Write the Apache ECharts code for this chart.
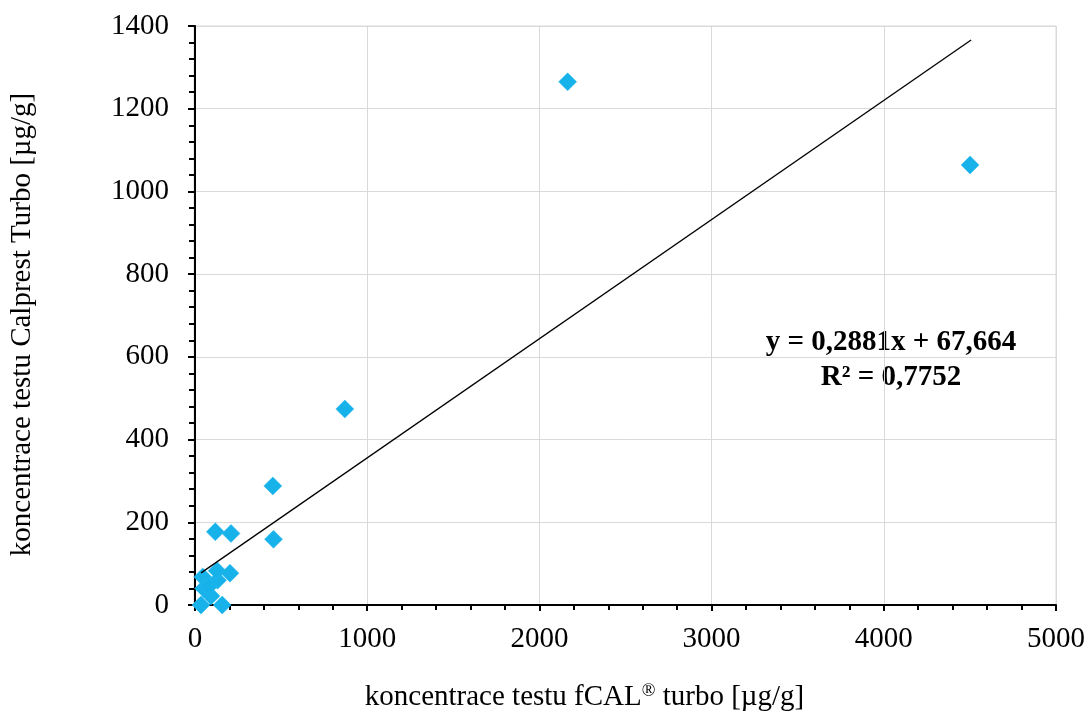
<!DOCTYPE html>
<html>
<head>
<meta charset="utf-8">
<script src="https://cdn.jsdelivr.net/npm/echarts@6/dist/echarts.min.js"></script>
<style>
  html, body { margin: 0; padding: 0; background: #fff; }
  #chart { width: 1090px; height: 717px; }
</style>
</head>
<body>
<div id="chart"></div>
<script>
// fCAL turbo vs Calprest Turbo (µg/g)
var fcalValues = [35, 158, 45, 50, 93, 131, 128, 203, 118, 209, 452, 456, 870, 2164, 4501, 80];
var calprestValues = [0, 0, 68, 40, 22, 60, 83, 77, 177, 173, 288, 159, 474, 1265, 1064, 45];

// trendline from the fitted equation
var slope = 0.2881;
var intercept = 67.664;
var trendX = [35, 4507];
var equationText = 'y = 0,2881x + 67,664';
var r2Text = 'R² = 0,7752';

var points = fcalValues.map(function (x, i) { return [x, calprestValues[i]]; });
var trendPoints = trendX.map(function (x) { return [x, slope * x + intercept]; });

var chart = echarts.init(document.getElementById('chart'));
var serif = '"Liberation Serif", "Times New Roman", serif';
var plain = function (v) { return String(v); };

var option = {
  backgroundColor: '#fff',
  animation: false,
  grid: { left: 194, right: 34, top: 26, bottom: 112 },
  xAxis: {
    type: 'value',
    min: 0, max: 5000, interval: 1000,
    name: 'koncentrace testu fCAL{sup|®} turbo [µg/g]',
    nameLocation: 'middle',
    nameGap: 77,
    nameTextStyle: {
      fontFamily: serif, fontSize: 29, color: '#000',
      padding: [0, 82, 0, 0],
      rich: { sup: { fontFamily: serif, fontSize: 18, color: '#000', verticalAlign: 'top', padding: [0, 0, 12, 0] } }
    },
    axisLine: { show: true, onZero: false, lineStyle: { color: '#000', width: 2 } },
    axisTick: { show: true, inside: false, length: 6, lineStyle: { color: '#000', width: 2 } },
    minorTick: { show: true, splitNumber: 5, length: 5, lineStyle: { color: '#000', width: 2 } },
    axisLabel: { fontFamily: serif, fontSize: 29, color: '#000', margin: 20, formatter: plain },
    splitLine: { show: true, lineStyle: { color: '#d9d9d9', width: 1 } }
  },
  yAxis: {
    type: 'value',
    min: 0, max: 1400, interval: 200,
    name: 'koncentrace testu Calprest Turbo [µg/g]',
    nameLocation: 'middle',
    nameGap: 158,
    nameRotate: 90,
    nameTextStyle: { fontFamily: serif, fontSize: 29, color: '#000', padding: [0, 18, 0, 0] },
    axisLine: { show: true, onZero: false, lineStyle: { color: '#000', width: 2 } },
    axisTick: { show: true, inside: false, length: 7, lineStyle: { color: '#000', width: 2 } },
    minorTick: { show: true, splitNumber: 5, length: 6, lineStyle: { color: '#000', width: 2 } },
    axisLabel: { fontFamily: serif, fontSize: 29, color: '#000', margin: 26, formatter: plain },
    splitLine: { show: true, lineStyle: { color: '#d9d9d9', width: 1 } }
  },
  graphic: [
    {
      type: 'rect',
      shape: { x: 194, y: 26, width: 862, height: 579 },
      style: { fill: 'none', stroke: '#d9d9d9', lineWidth: 1 },
      silent: true, z: -1
    },
    {
      type: 'text', x: 891, y: 343,
      style: { text: equationText, font: 'bold 29px ' + serif, fill: '#000', align: 'center', verticalAlign: 'middle' }
    },
    {
      type: 'text', x: 891, y: 378,
      style: { text: r2Text, font: 'bold 29px ' + serif, fill: '#000', align: 'center', verticalAlign: 'middle' }
    }
  ],
  series: [
    {
      type: 'line',
      data: trendPoints,
      symbol: 'none',
      lineStyle: { color: '#000', width: 1.3 },
      z: 3
    },
    {
      type: 'scatter',
      data: points,
      symbol: 'diamond',
      symbolSize: 18,
      itemStyle: { color: '#17B2EA', opacity: 1, borderColor: '#2DBBEE', borderWidth: 0.5 },
      z: 2
    }
  ]
};

chart.setOption(option);
window.onresize = function () { chart.resize(); };
</script>
</body>
</html>
